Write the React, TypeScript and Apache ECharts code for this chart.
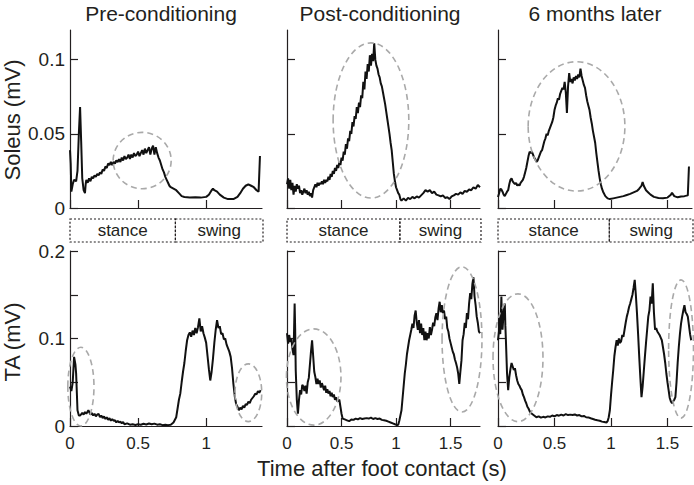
import React, { useEffect, useRef } from "react";
import * as echarts from "echarts";

// ---------- data (time in s, EMG in mV) ----------
const panelTitles = ["Pre-conditioning", "Post-conditioning", "6 months later"];
const xMaxes = [1.41, 1.77, 1.717];
const xTickValues = [
  [0, 0.5, 1],
  [0, 0.5, 1, 1.5],
  [0, 0.5, 1, 1.5],
];
const soleusTicks = [0, 0.05, 0.1];
const taTicks = [0, 0.05, 0.1, 0.15, 0.2];
const soleusLabels = [0, 0.05, 0.1];
const taLabels = [0, 0.1, 0.2];
const phaseNames = ["stance", "swing"];
const phaseSplit = [0.77, 1.03, 0.98];

const soleusPre = [
  [0, 0.039], [0.005, 0.03], [0.01, 0.011], [0.02, 0.016], [0.03, 0.019], [0.045, 0.018], [0.055, 0.025],
  [0.065, 0.05], [0.074, 0.068], [0.082, 0.045], [0.09, 0.02], [0.1, 0.012], [0.11, 0.01], [0.115, 0.016],
  [0.12, 0.019], [0.13, 0.017], [0.14, 0.02], [0.15, 0.018], [0.16, 0.021], [0.17, 0.02], [0.18, 0.022],
  [0.19, 0.021], [0.2, 0.023], [0.21, 0.022], [0.22, 0.024], [0.23, 0.023], [0.24, 0.026], [0.25, 0.025],
  [0.26, 0.028], [0.27, 0.027], [0.28, 0.03], [0.29, 0.029], [0.3, 0.031], [0.31, 0.029], [0.32, 0.031],
  [0.33, 0.03], [0.34, 0.032], [0.35, 0.031], [0.36, 0.033], [0.37, 0.031], [0.38, 0.034], [0.39, 0.032],
  [0.4, 0.035], [0.41, 0.033], [0.42, 0.034], [0.43, 0.036], [0.44, 0.033], [0.45, 0.036], [0.46, 0.034],
  [0.47, 0.037], [0.48, 0.035], [0.49, 0.036], [0.5, 0.038], [0.51, 0.035], [0.52, 0.037], [0.53, 0.039],
  [0.54, 0.036], [0.55, 0.04], [0.56, 0.037], [0.57, 0.039], [0.58, 0.041], [0.59, 0.036], [0.6, 0.04],
  [0.61, 0.042], [0.62, 0.036], [0.63, 0.041], [0.64, 0.037], [0.65, 0.034], [0.66, 0.032], [0.67, 0.029],
  [0.68, 0.026], [0.69, 0.024], [0.7, 0.021], [0.71, 0.019], [0.72, 0.017], [0.73, 0.015], [0.74, 0.014],
  [0.76, 0.013], [0.78, 0.012], [0.8, 0.01], [0.82, 0.008], [0.84, 0.0074], [0.88, 0.007], [0.92, 0.0072],
  [0.96, 0.007], [1.0, 0.0075], [1.02, 0.009], [1.04, 0.012], [1.05, 0.013], [1.06, 0.012], [1.08, 0.011],
  [1.1, 0.009], [1.13, 0.007], [1.16, 0.006], [1.2, 0.006], [1.23, 0.0075], [1.25, 0.01], [1.27, 0.013],
  [1.29, 0.015], [1.31, 0.016], [1.33, 0.015], [1.35, 0.014], [1.37, 0.012], [1.385, 0.011], [1.395, 0.035],
];

const soleusPost = [
  [0, 0.016], [0.01, 0.02], [0.02, 0.013], [0.03, 0.019], [0.04, 0.012], [0.05, 0.017], [0.06, 0.009],
  [0.07, 0.015], [0.08, 0.011], [0.09, 0.016], [0.1, 0.013], [0.11, 0.015], [0.12, 0.01], [0.13, 0.012],
  [0.14, 0.009], [0.15, 0.011], [0.16, 0.013], [0.17, 0.01], [0.18, 0.012], [0.19, 0.009], [0.2, 0.011],
  [0.21, 0.008], [0.22, 0.01], [0.23, 0.007], [0.24, 0.012], [0.25, 0.014], [0.26, 0.016], [0.27, 0.014],
  [0.28, 0.017], [0.29, 0.015], [0.3, 0.017], [0.31, 0.016], [0.32, 0.018], [0.33, 0.016], [0.34, 0.019],
  [0.35, 0.017], [0.36, 0.019], [0.37, 0.018], [0.38, 0.021], [0.39, 0.019], [0.4, 0.023], [0.41, 0.021],
  [0.42, 0.025], [0.43, 0.023], [0.44, 0.027], [0.45, 0.025], [0.46, 0.029], [0.47, 0.027], [0.48, 0.031],
  [0.49, 0.029], [0.5, 0.034], [0.51, 0.032], [0.52, 0.038], [0.53, 0.036], [0.54, 0.043], [0.55, 0.04],
  [0.56, 0.047], [0.57, 0.045], [0.58, 0.052], [0.59, 0.05], [0.6, 0.058], [0.61, 0.055], [0.62, 0.062],
  [0.63, 0.06], [0.64, 0.068], [0.65, 0.064], [0.66, 0.071], [0.67, 0.068], [0.68, 0.076], [0.69, 0.074],
  [0.7, 0.085], [0.71, 0.08], [0.72, 0.092], [0.73, 0.087], [0.74, 0.097], [0.75, 0.092], [0.76, 0.103],
  [0.77, 0.096], [0.78, 0.104], [0.79, 0.099], [0.8, 0.111], [0.81, 0.1], [0.82, 0.096], [0.83, 0.094],
  [0.84, 0.09], [0.85, 0.088], [0.86, 0.084], [0.87, 0.082], [0.88, 0.078], [0.89, 0.074], [0.9, 0.07],
  [0.91, 0.065], [0.92, 0.06], [0.93, 0.055], [0.94, 0.05], [0.95, 0.044], [0.96, 0.039], [0.97, 0.031],
  [0.98, 0.023], [0.99, 0.018], [1.0, 0.014], [1.01, 0.012], [1.02, 0.01], [1.03, 0.009], [1.04, 0.006],
  [1.05, 0.005], [1.07, 0.0065], [1.09, 0.005], [1.11, 0.0068], [1.13, 0.006], [1.15, 0.0075], [1.17, 0.0065],
  [1.19, 0.0078], [1.21, 0.007], [1.23, 0.0085], [1.25, 0.01], [1.27, 0.012], [1.29, 0.011], [1.31, 0.012],
  [1.33, 0.01], [1.35, 0.011], [1.37, 0.009], [1.39, 0.0085], [1.41, 0.0078], [1.43, 0.0085], [1.45, 0.0068],
  [1.47, 0.0072], [1.49, 0.006], [1.51, 0.0078], [1.53, 0.0085], [1.55, 0.0095], [1.57, 0.009], [1.59, 0.0105],
  [1.61, 0.0095], [1.63, 0.0115], [1.65, 0.011], [1.67, 0.0125], [1.69, 0.012], [1.71, 0.014], [1.73, 0.013],
  [1.75, 0.0155], [1.77, 0.014],
];

const soleusLater = [
  [0, 0.0074], [0.01, 0.01], [0.02, 0.013], [0.03, 0.0125], [0.04, 0.011], [0.05, 0.009], [0.06, 0.008],
  [0.07, 0.0095], [0.08, 0.011], [0.09, 0.012], [0.1, 0.016], [0.11, 0.019], [0.12, 0.02], [0.13, 0.018],
  [0.14, 0.017], [0.15, 0.016], [0.16, 0.017], [0.17, 0.015], [0.18, 0.016], [0.19, 0.015], [0.2, 0.017],
  [0.21, 0.018], [0.22, 0.019], [0.23, 0.021], [0.24, 0.024], [0.25, 0.027], [0.26, 0.031], [0.27, 0.035],
  [0.28, 0.038], [0.29, 0.037], [0.3, 0.038], [0.31, 0.036], [0.32, 0.034], [0.33, 0.033], [0.34, 0.031],
  [0.35, 0.032], [0.36, 0.034], [0.37, 0.036], [0.38, 0.038], [0.39, 0.039], [0.4, 0.042], [0.41, 0.045],
  [0.42, 0.047], [0.43, 0.05], [0.44, 0.049], [0.45, 0.052], [0.46, 0.054], [0.47, 0.056], [0.48, 0.058],
  [0.49, 0.061], [0.5, 0.066], [0.51, 0.069], [0.52, 0.071], [0.53, 0.074], [0.54, 0.073], [0.55, 0.077],
  [0.56, 0.079], [0.57, 0.081], [0.58, 0.08], [0.59, 0.085], [0.6, 0.078], [0.61, 0.064], [0.62, 0.082],
  [0.63, 0.091], [0.64, 0.085], [0.65, 0.087], [0.66, 0.084], [0.67, 0.088], [0.68, 0.086], [0.69, 0.089],
  [0.7, 0.087], [0.71, 0.09], [0.72, 0.088], [0.73, 0.094], [0.74, 0.089], [0.75, 0.086], [0.76, 0.083],
  [0.77, 0.081], [0.78, 0.076], [0.79, 0.072], [0.8, 0.069], [0.81, 0.066], [0.82, 0.061], [0.83, 0.057],
  [0.84, 0.052], [0.85, 0.048], [0.86, 0.044], [0.87, 0.037], [0.88, 0.031], [0.89, 0.025], [0.9, 0.02],
  [0.91, 0.016], [0.92, 0.013], [0.93, 0.011], [0.95, 0.008], [0.97, 0.0065], [0.99, 0.006], [1.02, 0.0065],
  [1.05, 0.007], [1.08, 0.0075], [1.11, 0.008], [1.14, 0.0088], [1.17, 0.0095], [1.2, 0.0105], [1.23, 0.0115],
  [1.25, 0.013], [1.27, 0.015], [1.28, 0.0175], [1.29, 0.015], [1.31, 0.012], [1.33, 0.0105], [1.35, 0.009],
  [1.38, 0.0075], [1.42, 0.0068], [1.46, 0.0065], [1.5, 0.007], [1.53, 0.009], [1.54, 0.0103], [1.56, 0.008],
  [1.59, 0.0072], [1.62, 0.0078], [1.65, 0.008], [1.68, 0.0085], [1.69, 0.028],
];

const taPre = [
  [0, 0.045], [0.01, 0.04], [0.02, 0.05], [0.03, 0.079], [0.04, 0.07], [0.045, 0.06], [0.055, 0.018],
  [0.065, 0.012], [0.075, 0.012], [0.09, 0.015], [0.1, 0.013], [0.11, 0.016], [0.12, 0.014], [0.135, 0.018],
  [0.15, 0.013], [0.16, 0.015], [0.17, 0.012], [0.18, 0.014], [0.19, 0.011], [0.2, 0.013], [0.21, 0.014],
  [0.22, 0.01], [0.23, 0.012], [0.24, 0.009], [0.25, 0.011], [0.26, 0.008], [0.27, 0.01], [0.28, 0.007],
  [0.29, 0.009], [0.3, 0.006], [0.31, 0.008], [0.32, 0.006], [0.33, 0.0065], [0.34, 0.004], [0.35, 0.006],
  [0.36, 0.004], [0.37, 0.005], [0.38, 0.003], [0.39, 0.0046], [0.4, 0.002], [0.42, 0.003], [0.44, 0.0015],
  [0.46, 0.002], [0.48, 0.0012], [0.5, 0.002], [0.52, 0.0015], [0.54, 0.0025], [0.56, 0.0018], [0.58, 0.0028],
  [0.6, 0.002], [0.62, 0.0027], [0.64, 0.0015], [0.66, 0.002], [0.68, 0.001], [0.7, 0.0015], [0.72, 0.001],
  [0.74, 0.0015], [0.76, 0.004], [0.78, 0.01], [0.79, 0.02], [0.8, 0.03], [0.81, 0.037], [0.82, 0.05],
  [0.83, 0.062], [0.84, 0.072], [0.85, 0.086], [0.86, 0.098], [0.87, 0.104], [0.88, 0.107], [0.89, 0.102],
  [0.9, 0.109], [0.91, 0.104], [0.92, 0.112], [0.93, 0.106], [0.94, 0.113], [0.95, 0.123], [0.96, 0.108],
  [0.97, 0.114], [0.98, 0.106], [0.99, 0.101], [1.0, 0.095], [1.01, 0.08], [1.02, 0.065], [1.03, 0.052],
  [1.04, 0.062], [1.05, 0.077], [1.06, 0.095], [1.07, 0.11], [1.08, 0.121], [1.09, 0.112], [1.1, 0.114],
  [1.11, 0.105], [1.12, 0.106], [1.13, 0.099], [1.14, 0.1], [1.15, 0.093], [1.16, 0.089], [1.17, 0.085],
  [1.18, 0.079], [1.19, 0.066], [1.2, 0.048], [1.21, 0.034], [1.22, 0.025], [1.23, 0.022], [1.24, 0.018],
  [1.25, 0.021], [1.26, 0.019], [1.27, 0.023], [1.28, 0.021], [1.29, 0.025], [1.3, 0.024], [1.31, 0.028],
  [1.32, 0.026], [1.33, 0.03], [1.34, 0.032], [1.35, 0.034], [1.36, 0.037], [1.37, 0.036], [1.38, 0.04],
  [1.39, 0.038], [1.4, 0.041],
];

const taPost = [
  [0, 0.106], [0.01, 0.094], [0.02, 0.104], [0.03, 0.096], [0.04, 0.1], [0.05, 0.088], [0.06, 0.081],
  [0.07, 0.14], [0.075, 0.11], [0.08, 0.064], [0.09, 0.03], [0.1, 0.014], [0.11, 0.03], [0.12, 0.041],
  [0.13, 0.036], [0.14, 0.047], [0.15, 0.045], [0.16, 0.04], [0.17, 0.046], [0.18, 0.037], [0.19, 0.05],
  [0.2, 0.055], [0.21, 0.07], [0.22, 0.085], [0.23, 0.098], [0.24, 0.08], [0.25, 0.062], [0.26, 0.056],
  [0.27, 0.048], [0.28, 0.054], [0.29, 0.048], [0.3, 0.052], [0.31, 0.044], [0.32, 0.049], [0.33, 0.045],
  [0.34, 0.041], [0.35, 0.046], [0.36, 0.038], [0.37, 0.042], [0.38, 0.037], [0.39, 0.04], [0.4, 0.034],
  [0.41, 0.038], [0.42, 0.033], [0.43, 0.036], [0.44, 0.03], [0.45, 0.033], [0.46, 0.028], [0.47, 0.029],
  [0.48, 0.03], [0.49, 0.022], [0.5, 0.014], [0.51, 0.0085], [0.53, 0.0075], [0.55, 0.0065], [0.57, 0.0055],
  [0.59, 0.0075], [0.61, 0.007], [0.63, 0.0085], [0.65, 0.0075], [0.67, 0.009], [0.69, 0.008], [0.71, 0.0085],
  [0.73, 0.009], [0.75, 0.0085], [0.77, 0.0095], [0.79, 0.008], [0.81, 0.009], [0.83, 0.008], [0.85, 0.0085],
  [0.87, 0.007], [0.89, 0.0065], [0.91, 0.006], [0.93, 0.005], [0.95, 0.004], [0.97, 0.003], [0.99, 0.002],
  [1.01, 0.0012], [1.02, 0.0015], [1.03, 0.006], [1.04, 0.012], [1.05, 0.018], [1.06, 0.032], [1.07, 0.046],
  [1.08, 0.06], [1.09, 0.07], [1.1, 0.082], [1.11, 0.09], [1.12, 0.098], [1.13, 0.104], [1.14, 0.11],
  [1.15, 0.117], [1.16, 0.112], [1.17, 0.126], [1.18, 0.132], [1.19, 0.118], [1.2, 0.11], [1.21, 0.121],
  [1.22, 0.106], [1.23, 0.117], [1.24, 0.104], [1.25, 0.112], [1.26, 0.098], [1.27, 0.108], [1.28, 0.098],
  [1.29, 0.106], [1.3, 0.1], [1.31, 0.113], [1.32, 0.104], [1.33, 0.11], [1.34, 0.118], [1.35, 0.114],
  [1.36, 0.124], [1.37, 0.129], [1.38, 0.121], [1.39, 0.134], [1.4, 0.142], [1.41, 0.13], [1.42, 0.138],
  [1.43, 0.129], [1.44, 0.132], [1.45, 0.122], [1.46, 0.125], [1.47, 0.112], [1.48, 0.108], [1.49, 0.1],
  [1.5, 0.095], [1.51, 0.09], [1.52, 0.085], [1.53, 0.082], [1.54, 0.076], [1.55, 0.072], [1.56, 0.067],
  [1.57, 0.06], [1.58, 0.048], [1.59, 0.062], [1.6, 0.075], [1.61, 0.098], [1.62, 0.105], [1.63, 0.118],
  [1.64, 0.112], [1.65, 0.129], [1.66, 0.122], [1.67, 0.14], [1.68, 0.152], [1.69, 0.145], [1.7, 0.162],
  [1.71, 0.17], [1.72, 0.148], [1.73, 0.138], [1.74, 0.125], [1.75, 0.118], [1.76, 0.108], [1.77, 0.106],
];

const taLater = [
  [0, 0.098], [0.01, 0.11], [0.015, 0.125], [0.02, 0.105], [0.03, 0.148], [0.035, 0.12], [0.04, 0.11],
  [0.05, 0.13], [0.06, 0.14], [0.065, 0.115], [0.07, 0.098], [0.08, 0.06], [0.09, 0.041], [0.1, 0.056],
  [0.11, 0.065], [0.12, 0.072], [0.13, 0.068], [0.14, 0.064], [0.15, 0.066], [0.16, 0.058], [0.17, 0.052],
  [0.18, 0.048], [0.19, 0.046], [0.2, 0.043], [0.21, 0.041], [0.22, 0.036], [0.23, 0.033], [0.24, 0.029],
  [0.25, 0.026], [0.26, 0.022], [0.27, 0.02], [0.28, 0.017], [0.29, 0.015], [0.3, 0.014], [0.32, 0.012],
  [0.34, 0.01], [0.36, 0.011], [0.38, 0.0095], [0.4, 0.0105], [0.42, 0.0098], [0.44, 0.011], [0.46, 0.0105],
  [0.48, 0.012], [0.5, 0.011], [0.52, 0.0125], [0.54, 0.0118], [0.56, 0.013], [0.58, 0.012], [0.6, 0.0135],
  [0.62, 0.0125], [0.64, 0.013], [0.66, 0.0125], [0.68, 0.0132], [0.7, 0.012], [0.72, 0.0125], [0.74, 0.011],
  [0.76, 0.0115], [0.78, 0.01], [0.8, 0.0098], [0.82, 0.0088], [0.84, 0.008], [0.86, 0.0072], [0.88, 0.0065],
  [0.9, 0.006], [0.92, 0.005], [0.94, 0.0046], [0.96, 0.004], [0.97, 0.0055], [0.98, 0.01], [0.99, 0.018],
  [1.0, 0.035], [1.01, 0.05], [1.02, 0.064], [1.03, 0.08], [1.04, 0.09], [1.05, 0.098], [1.06, 0.092],
  [1.07, 0.1], [1.08, 0.095], [1.09, 0.097], [1.1, 0.104], [1.11, 0.102], [1.12, 0.11], [1.13, 0.118],
  [1.14, 0.125], [1.15, 0.13], [1.16, 0.136], [1.17, 0.14], [1.18, 0.145], [1.19, 0.15], [1.2, 0.158],
  [1.21, 0.167], [1.22, 0.15], [1.23, 0.129], [1.24, 0.105], [1.25, 0.079], [1.26, 0.055], [1.27, 0.033],
  [1.28, 0.045], [1.29, 0.062], [1.3, 0.079], [1.31, 0.095], [1.32, 0.11], [1.33, 0.125], [1.34, 0.132],
  [1.35, 0.148], [1.36, 0.14], [1.37, 0.163], [1.38, 0.13], [1.39, 0.11], [1.4, 0.112], [1.41, 0.108],
  [1.42, 0.106], [1.43, 0.104], [1.44, 0.101], [1.45, 0.098], [1.46, 0.09], [1.47, 0.082], [1.48, 0.072],
  [1.49, 0.06], [1.5, 0.05], [1.51, 0.041], [1.52, 0.032], [1.53, 0.028], [1.54, 0.026], [1.55, 0.028],
  [1.56, 0.03], [1.57, 0.033], [1.58, 0.05], [1.59, 0.072], [1.6, 0.09], [1.61, 0.105], [1.62, 0.117],
  [1.63, 0.125], [1.64, 0.132], [1.65, 0.138], [1.66, 0.13], [1.67, 0.128], [1.68, 0.125], [1.69, 0.115],
  [1.7, 0.105], [1.71, 0.098],
];

// ellipses: [centre t, centre mV, radius t, radius mV]
const soleusEllipses = [
  [[0.53, 0.032, 0.213, 0.019]],
  [[0.77, 0.059, 0.347, 0.0523]],
  [[0.695, 0.055, 0.428, 0.0436]],
];
const taEllipses = [
  [[0.08, 0.045, 0.096, 0.045], [1.31, 0.038, 0.098, 0.033]],
  [[0.245, 0.056, 0.25, 0.055], [1.605, 0.099, 0.183, 0.083]],
  [[0.177, 0.078, 0.221, 0.073], [1.62, 0.088, 0.11, 0.079]],
];

const soleusSeries = [soleusPre, soleusPost, soleusLater];
const taSeries = [taPre, taPost, taLater];

// ---------- layout / style ----------
const FONT = '"Liberation Sans", Arial, Helvetica, sans-serif';
const INK = "#231f20";
const ELLIPSE = "#a9a9a9";
const PANEL_LEFT = [70, 287, 498];
const PANEL_WIDTH = [192, 193, 194];
const TOP_ROW = { top: 30, height: 178 };
const BOX_ROW = { top: 219, height: 23 };
const BOTTOM_ROW = { top: 251, height: 175 };

export default function App() {
  const ref = useRef<HTMLDivElement>(null);

  useEffect(() => {
    document.body.style.margin = "0";
    if (!ref.current) return;
    const chart = echarts.init(ref.current, undefined, { renderer: "svg" });

    const grids: any[] = [];
    const xAxes: any[] = [];
    const yAxes: any[] = [];
    const series: any[] = [];

    const ellipseRender = (params: any, api: any) => {
      const c = api.coord([api.value(0), api.value(1)]);
      const s = api.size([api.value(2), api.value(3)]);
      return {
        type: "ellipse",
        shape: { cx: c[0], cy: c[1], rx: s[0], ry: s[1] },
        style: { fill: "none", stroke: ELLIPSE, lineWidth: 1.6, lineDash: [6, 4] },
      };
    };

    const addPanel = (p: number, row: any, isTop: boolean) => {
      const gi = grids.length;
      grids.push({ left: PANEL_LEFT[p], width: PANEL_WIDTH[p], top: row.top, height: row.height, containLabel: false });
      xAxes.push({
        type: "value",
        gridIndex: gi,
        min: 0,
        max: xMaxes[p],
        axisLine: { show: true, onZero: false, lineStyle: { color: INK, width: 1.2 } },
        axisTick: { show: true, inside: true, length: 8, customValues: xTickValues[p], lineStyle: { color: INK, width: 1.2 } },
        axisLabel: {
          show: !isTop,
          customValues: xTickValues[p],
          margin: 9,
          fontSize: 17,
          fontFamily: FONT,
          color: INK,
          formatter: (v: number) => String(v),
        },
        splitLine: { show: false },
      });
      const ticks = isTop ? soleusTicks : taTicks;
      const labels = isTop ? soleusLabels : taLabels;
      yAxes.push({
        type: "value",
        gridIndex: gi,
        min: 0,
        max: isTop ? 0.12 : 0.2,
        axisLine: { show: true, onZero: false, lineStyle: { color: INK, width: 1.2 } },
        axisTick: { show: true, inside: true, length: 8, customValues: ticks, lineStyle: { color: INK, width: 1.2 } },
        axisLabel: {
          show: p === 0,
          customValues: labels,
          margin: 5,
          fontSize: 19,
          fontFamily: FONT,
          color: INK,
          formatter: (v: number) => String(v),
        },
        splitLine: { show: false },
      });
      series.push({
        type: "line",
        xAxisIndex: gi,
        yAxisIndex: gi,
        data: isTop ? soleusSeries[p] : taSeries[p],
        showSymbol: false,
        symbol: "none",
        lineStyle: { color: "#111111", width: 2 },
        silent: true,
        z: 3,
      });
      series.push({
        type: "custom",
        xAxisIndex: gi,
        yAxisIndex: gi,
        data: isTop ? soleusEllipses[p] : taEllipses[p],
        renderItem: ellipseRender,
        clip: false,
        silent: true,
        z: 4,
      });
    };

    for (let p = 0; p < 3; p++) addPanel(p, TOP_ROW, true);
    for (let p = 0; p < 3; p++) addPanel(p, BOTTOM_ROW, false);

    // phase boxes
    for (let p = 0; p < 3; p++) {
      const gi = grids.length;
      grids.push({ left: PANEL_LEFT[p], width: PANEL_WIDTH[p] + 1, top: BOX_ROW.top, height: BOX_ROW.height });
      xAxes.push({ type: "value", gridIndex: gi, min: 0, max: xMaxes[p], show: false });
      yAxes.push({ type: "value", gridIndex: gi, min: 0, max: 1, show: false });
      series.push({
        type: "custom",
        xAxisIndex: gi,
        yAxisIndex: gi,
        encode: { x: [0, 1] },
        data: [
          [0, phaseSplit[p]],
          [phaseSplit[p], xMaxes[p]],
        ],
        clip: false,
        silent: true,
        renderItem: (params: any, api: any) => {
          const a = api.coord([api.value(0), 1]);
          const b = api.coord([api.value(1), 0]);
          return {
            type: "group",
            children: [
              {
                type: "rect",
                shape: { x: a[0], y: a[1], width: b[0] - a[0], height: b[1] - a[1] },
                style: { fill: "none", stroke: INK, lineWidth: 1.2, lineDash: [2, 2] },
              },
              {
                type: "text",
                style: {
                  text: phaseNames[params.dataIndex],
                  x: (a[0] + b[0]) / 2,
                  y: (a[1] + b[1]) / 2,
                  align: "center",
                  verticalAlign: "middle",
                  fontSize: 17,
                  fontFamily: FONT,
                  fill: INK,
                },
              },
            ],
          };
        },
      });
    }

    const titleCenters = [161, 380, 595];
    const graphic: any[] = panelTitles.map((t, i) => ({
      type: "text",
      x: titleCenters[i],
      y: 13,
      style: { text: t, fontSize: 21, fontFamily: FONT, fill: INK, align: "center", verticalAlign: "middle" },
    }));
    graphic.push(
      {
        type: "text",
        x: 12,
        y: 120,
        rotation: Math.PI / 2,
        style: { text: "Soleus (mV)", fontSize: 22, fontFamily: FONT, fill: INK, align: "center", verticalAlign: "middle" },
      },
      {
        type: "text",
        x: 12,
        y: 342,
        rotation: Math.PI / 2,
        style: { text: "TA (mV)", fontSize: 22, fontFamily: FONT, fill: INK, align: "center", verticalAlign: "middle" },
      },
      {
        type: "text",
        x: 382,
        y: 468,
        style: { text: "Time after foot contact (s)", fontSize: 22, fontFamily: FONT, fill: INK, align: "center", verticalAlign: "middle" },
      }
    );

    chart.setOption({
      animation: false,
      backgroundColor: "#ffffff",
      grid: grids,
      xAxis: xAxes,
      yAxis: yAxes,
      series,
      graphic,
    });

    return () => chart.dispose();
  }, []);

  return <div ref={ref} style={{ width: 694, height: 485 }} />;
}
